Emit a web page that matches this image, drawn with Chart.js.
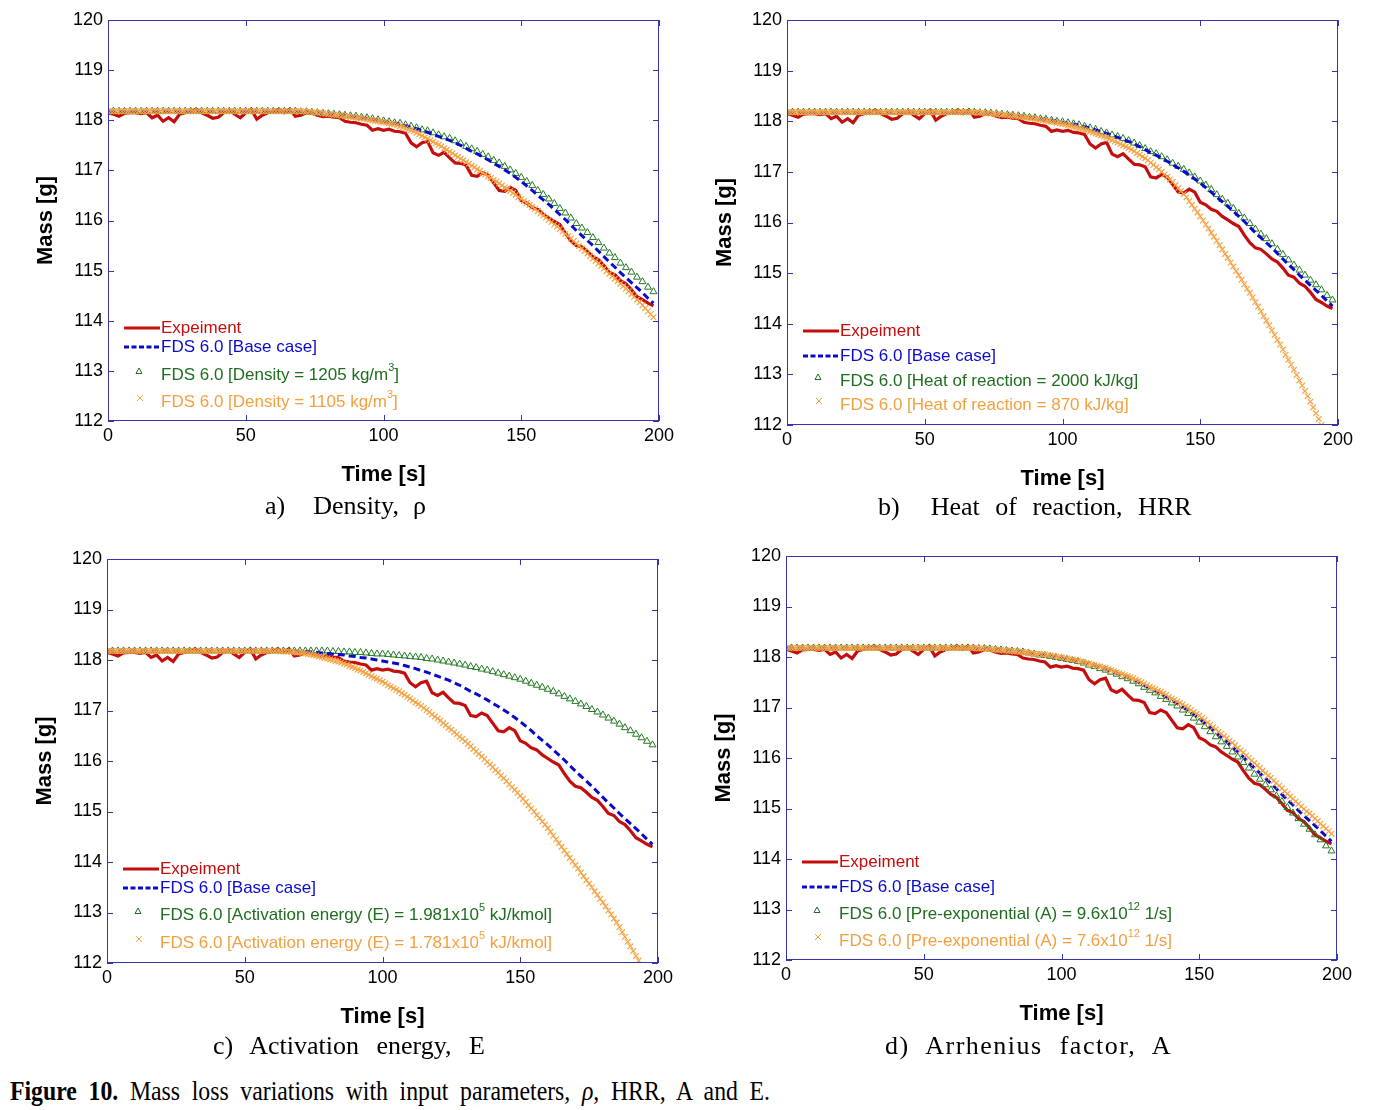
<!DOCTYPE html>
<html>
<head>
<meta charset="utf-8">
<title>Figure 10 - Mass loss variations</title>
<script src="https://cdn.jsdelivr.net/npm/chart.js@4.4.1/dist/chart.umd.min.js"></script>
<style>
  body { margin: 0; background: #fff; }
  #page { position: relative; width: 1374px; height: 1110px; overflow: hidden; background: #fff; }
  canvas { position: absolute; }
  .sub { position: absolute; font-family: "Liberation Serif", "Times New Roman", serif; font-size: 26px;
         line-height: 30px; white-space: pre; color: #000; }
  #caption { position: absolute; left: 10px; top: 1076px; font-family: "Liberation Serif", "Times New Roman", serif;
             font-size: 27px; line-height: 30px; white-space: pre; color: #000; transform: scaleX(0.88);
             transform-origin: 0 0; word-spacing: 6.5px; }
</style>
</head>
<body>
<div id="page">
  <canvas id="chartA" width="690" height="500" style="left:0px;top:0px"></canvas>
  <canvas id="chartB" width="690" height="504" style="left:679px;top:0px"></canvas>
  <canvas id="chartC" width="690" height="503" style="left:-1px;top:539px"></canvas>
  <canvas id="chartD" width="690" height="503" style="left:678px;top:536px"></canvas>
  <div class="sub" style="left:265px;top:491px;word-spacing:7.5px">a)  Density, ρ</div>
  <div class="sub" style="left:878px;top:492px;word-spacing:9px">b)  Heat of reaction, HRR</div>
  <div class="sub" style="left:213px;top:1031px;word-spacing:11px">c) Activation energy, E</div>
  <div class="sub" style="left:885px;top:1031px;word-spacing:9px;letter-spacing:1.5px">d) Arrhenius factor, A</div>
  <div id="caption"><b>Figure 10.</b> Mass loss variations with input parameters, <i>ρ</i>, HRR, A and E.</div>
</div>
<script>
// sampling interval of the series [s]
const stepCoarse = 2;   // experiment, base case, triangle series
const stepFine = 1;     // cross series

// axis ticks
const timeTicks = [0, 50, 100, 150, 200];
const massTicks = [112, 113, 114, 115, 116, 117, 118, 119, 120];

// measured mass [g], every 2 s
const experiment = [
  118.15, 118.12, 118.08, 118.14, 118.15, 118.15, 118.13, 118.15, 118.05, 118.1,
  117.98, 118.05, 117.97, 118.12, 118.15, 118.18, 118.22, 118.15, 118.1, 118.04,
  118.06, 118.15, 118.2, 118.12, 118.05, 118.15, 118.22, 118.02, 118.1, 118.15,
  118.18, 118.22, 118.15, 118.22, 118.08, 118.1, 118.15, 118.14, 118.1, 118.07,
  118.08, 118.06, 118.05, 117.98, 117.96, 117.95, 117.92, 117.9, 117.8, 117.83,
  117.8, 117.82, 117.78, 117.77, 117.74, 117.55, 117.47, 117.55, 117.58, 117.35,
  117.3, 117.36, 117.25, 117.15, 117.14, 117.1, 116.9, 116.88, 116.95, 116.9,
  116.75, 116.6, 116.58, 116.66, 116.6, 116.4, 116.35, 116.26, 116.22, 116.12,
  116.05, 115.98, 115.92, 115.75, 115.6, 115.5, 115.47, 115.38, 115.28, 115.22,
  115.1, 114.96, 114.92, 114.8, 114.74, 114.62, 114.48, 114.42, 114.35, 114.3
];

// FDS 6.0 base case, every 2 s
const baseCase = [
  118.18, 118.18, 118.18, 118.18, 118.18, 118.18, 118.18, 118.18, 118.18, 118.18,
  118.18, 118.18, 118.18, 118.18, 118.18, 118.18, 118.18, 118.18, 118.18, 118.18,
  118.18, 118.18, 118.18, 118.18, 118.18, 118.18, 118.18, 118.18, 118.18, 118.18,
  118.18, 118.18, 118.18, 118.18, 118.18,
  118.17, 118.17, 118.16, 118.15, 118.14, 118.13, 118.12, 118.11, 118.1, 118.08,
  118.07, 118.05, 118.04, 118.02, 118.0, 117.98, 117.96, 117.94, 117.92, 117.89,
  117.86, 117.83, 117.79, 117.76, 117.72, 117.68, 117.64, 117.6, 117.55, 117.5,
  117.44, 117.38, 117.33, 117.27, 117.21, 117.14, 117.08, 117.01, 116.94, 116.86,
  116.78, 116.69, 116.6, 116.5, 116.41, 116.32, 116.22, 116.12, 116.02, 115.91,
  115.8, 115.7, 115.6, 115.5, 115.39, 115.28, 115.17, 115.07, 114.96, 114.86,
  114.76, 114.66, 114.56, 114.45, 114.35
];

// a) density = 1205 kg/m3, every 2 s
const densityHigh = [
  118.18, 118.18, 118.18, 118.18, 118.18, 118.18, 118.18, 118.18, 118.18, 118.18,
  118.18, 118.18, 118.18, 118.18, 118.18, 118.18, 118.18, 118.18, 118.18, 118.18,
  118.18, 118.18, 118.18, 118.18, 118.18, 118.18, 118.18, 118.18, 118.18, 118.18,
  118.18, 118.18, 118.18, 118.18, 118.18,
  118.17, 118.17, 118.16, 118.15, 118.14, 118.13, 118.12, 118.11, 118.1, 118.09,
  118.08, 118.06, 118.05, 118.03, 118.01, 117.99, 117.97, 117.95, 117.94, 117.91,
  117.88, 117.85, 117.81, 117.79, 117.75, 117.71, 117.67, 117.64, 117.59, 117.54,
  117.48, 117.43, 117.38, 117.32, 117.27, 117.2, 117.15, 117.08, 117.01, 116.94,
  116.86, 116.78, 116.7, 116.6, 116.52, 116.43, 116.34, 116.24, 116.15, 116.05,
  115.94, 115.85, 115.76, 115.66, 115.56, 115.45, 115.35, 115.26, 115.15, 115.06,
  114.97, 114.87, 114.78, 114.67, 114.58
];

// a) density = 1105 kg/m3, every 1 s
const densityLow = [
  118.18, 118.18, 118.18, 118.18, 118.18, 118.18, 118.18, 118.18, 118.18, 118.18,
  118.18, 118.18, 118.18, 118.18, 118.18, 118.18, 118.18, 118.18, 118.18, 118.18,
  118.18, 118.18, 118.18, 118.18, 118.18, 118.18, 118.18, 118.18, 118.18, 118.18,
  118.18, 118.18, 118.18, 118.18, 118.18, 118.18, 118.18, 118.18, 118.18, 118.18,
  118.18, 118.18, 118.18, 118.18, 118.18, 118.18, 118.18, 118.18, 118.18, 118.18,
  118.18, 118.18, 118.18, 118.18, 118.18, 118.18, 118.18, 118.18, 118.18, 118.18,
  118.18, 118.18, 118.18, 118.18, 118.18, 118.18, 118.18, 118.18, 118.18, 118.18,
  118.18,
  118.18, 118.17, 118.17, 118.16, 118.16, 118.15, 118.15, 118.14, 118.13, 118.12,
  118.12, 118.11, 118.1, 118.1, 118.09, 118.08, 118.08, 118.07, 118.06, 118.05,
  118.05, 118.04, 118.03, 118.02, 118.01, 118.0, 117.99, 117.98, 117.97, 117.96,
  117.95, 117.94, 117.93, 117.92, 117.9, 117.88, 117.86, 117.84, 117.82, 117.8,
  117.78, 117.75, 117.72, 117.69, 117.66, 117.63, 117.6, 117.57, 117.54, 117.51,
  117.48, 117.44, 117.41, 117.37, 117.34, 117.3, 117.27, 117.23, 117.2, 117.16,
  117.13, 117.09, 117.06, 117.02, 116.99, 116.95, 116.92, 116.88, 116.85, 116.81,
  116.78, 116.74, 116.7, 116.66, 116.63, 116.59, 116.55, 116.51, 116.47, 116.43,
  116.39, 116.35, 116.31, 116.27, 116.23, 116.19, 116.14, 116.1, 116.06, 116.01,
  115.97, 115.92, 115.88, 115.83, 115.78, 115.73, 115.69, 115.64, 115.59, 115.54,
  115.49, 115.44, 115.39, 115.34, 115.29, 115.24, 115.19, 115.14, 115.09, 115.04,
  114.99, 114.94, 114.89, 114.84, 114.79, 114.74, 114.69, 114.64, 114.59, 114.53,
  114.48, 114.42, 114.37, 114.31, 114.25, 114.19, 114.13, 114.07
];

// b) heat of reaction = 2000 kJ/kg, every 2 s
const heatHigh = [
  118.18, 118.18, 118.18, 118.18, 118.18, 118.18, 118.18, 118.18, 118.18, 118.18,
  118.18, 118.18, 118.18, 118.18, 118.18, 118.18, 118.18, 118.18, 118.18, 118.18,
  118.18, 118.18, 118.18, 118.18, 118.18, 118.18, 118.18, 118.18, 118.18, 118.18,
  118.18, 118.18, 118.18, 118.18, 118.18,
  118.17, 118.17, 118.16, 118.15, 118.14, 118.13, 118.12, 118.11, 118.1, 118.08,
  118.07, 118.05, 118.04, 118.02, 118.0, 117.99, 117.97, 117.95, 117.93, 117.9,
  117.87, 117.84, 117.8, 117.77, 117.73, 117.7, 117.66, 117.62, 117.57, 117.52,
  117.46, 117.4, 117.36, 117.3, 117.24, 117.17, 117.11, 117.05, 116.98, 116.9,
  116.82, 116.74, 116.65, 116.55, 116.46, 116.38, 116.28, 116.18, 116.09, 115.98,
  115.87, 115.77, 115.68, 115.58, 115.47, 115.37, 115.26, 115.16, 115.06, 114.96,
  114.86, 114.77, 114.67, 114.56, 114.47
];

// b) heat of reaction = 870 kJ/kg, every 1 s
const heatLow = [
  118.18, 118.18, 118.18, 118.18, 118.18, 118.18, 118.18, 118.18, 118.18, 118.18,
  118.18, 118.18, 118.18, 118.18, 118.18, 118.18, 118.18, 118.18, 118.18, 118.18,
  118.18, 118.18, 118.18, 118.18, 118.18, 118.18, 118.18, 118.18, 118.18, 118.18,
  118.18, 118.18, 118.18, 118.18, 118.18, 118.18, 118.18, 118.18, 118.18, 118.18,
  118.18, 118.18, 118.18, 118.18, 118.18, 118.18, 118.18, 118.18, 118.18, 118.18,
  118.18, 118.18, 118.18, 118.18, 118.18, 118.18, 118.18, 118.18, 118.18, 118.18,
  118.18, 118.18, 118.18, 118.18, 118.18, 118.18, 118.18, 118.18, 118.18, 118.18,
  118.17, 118.17, 118.16, 118.16, 118.15, 118.15, 118.14, 118.14, 118.13, 118.13,
  118.12, 118.11, 118.11, 118.1, 118.09, 118.09, 118.08, 118.07, 118.07, 118.06,
  118.05, 118.04, 118.03, 118.02, 118.01, 118.0, 117.99, 117.98, 117.97, 117.96,
  117.95, 117.94, 117.92, 117.91, 117.89, 117.88, 117.86, 117.85, 117.83, 117.82,
  117.8, 117.78, 117.76, 117.74, 117.72, 117.7, 117.68, 117.65, 117.63, 117.6,
  117.58, 117.55, 117.52, 117.5, 117.47, 117.44, 117.41, 117.37, 117.34, 117.3,
  117.27, 117.23, 117.18, 117.14, 117.09, 117.05, 117.0, 116.95, 116.9, 116.85,
  116.8, 116.74, 116.68, 116.62, 116.56, 116.5, 116.42, 116.35, 116.27, 116.2,
  116.12, 116.04, 115.96, 115.88, 115.8, 115.72, 115.64, 115.55, 115.47, 115.38,
  115.3, 115.21, 115.13, 115.04, 114.96, 114.87, 114.78, 114.69, 114.61, 114.52,
  114.43, 114.34, 114.24, 114.15, 114.06, 113.97, 113.87, 113.78, 113.68, 113.59,
  113.49, 113.39, 113.29, 113.19, 113.09, 112.99, 112.88, 112.78, 112.67, 112.57,
  112.46, 112.35, 112.23, 112.12, 112.0, 111.89
];

// c) activation energy = 1.981e5 kJ/kmol, every 2 s
const energyHigh = [
  118.18, 118.18, 118.18, 118.18, 118.18, 118.18, 118.18, 118.18, 118.18, 118.18,
  118.18, 118.18, 118.18, 118.18, 118.18, 118.18, 118.18, 118.18, 118.18, 118.18,
  118.18, 118.18, 118.18, 118.18, 118.18, 118.18, 118.18, 118.18, 118.18, 118.18,
  118.18, 118.18, 118.18, 118.18, 118.18, 118.18, 118.18, 118.18, 118.18, 118.18,
  118.18,
  118.17, 118.17, 118.16, 118.16, 118.15, 118.15, 118.14, 118.13, 118.12, 118.12,
  118.11, 118.1, 118.09, 118.08, 118.07, 118.06, 118.05, 118.03, 118.02, 118.0,
  117.98, 117.96, 117.94, 117.92, 117.9, 117.87, 117.85, 117.82, 117.8, 117.77,
  117.74, 117.71, 117.68, 117.65, 117.62, 117.58, 117.54, 117.5, 117.46, 117.42,
  117.38, 117.33, 117.28, 117.23, 117.18, 117.13, 117.08, 117.02, 116.97, 116.91,
  116.85, 116.79, 116.73, 116.66, 116.6, 116.53, 116.46, 116.39, 116.32
];

// c) activation energy = 1.781e5 kJ/kmol, every 1 s
const energyLow = [
  118.18, 118.18, 118.18, 118.18, 118.18, 118.18, 118.18, 118.18, 118.18, 118.18,
  118.18, 118.18, 118.18, 118.18, 118.18, 118.18, 118.18, 118.18, 118.18, 118.18,
  118.18, 118.18, 118.18, 118.18, 118.18, 118.18, 118.18, 118.18, 118.18, 118.18,
  118.18, 118.18, 118.18, 118.18, 118.18, 118.18, 118.18, 118.18, 118.18, 118.18,
  118.18, 118.18, 118.18, 118.18, 118.18, 118.18, 118.18, 118.18, 118.18, 118.18,
  118.18, 118.18, 118.18, 118.18, 118.18, 118.18, 118.18, 118.18, 118.18, 118.18,
  118.18, 118.18, 118.18, 118.17, 118.17, 118.17, 118.17, 118.16, 118.16, 118.15,
  118.15, 118.14, 118.13, 118.12, 118.11, 118.1, 118.09, 118.07, 118.06, 118.04,
  118.03, 118.01, 118.0, 117.98, 117.97, 117.95, 117.93, 117.91, 117.88, 117.86,
  117.84, 117.81, 117.79, 117.76, 117.74, 117.71, 117.68, 117.65, 117.63, 117.6,
  117.57, 117.54, 117.5, 117.47, 117.44, 117.41, 117.38, 117.34, 117.31, 117.27,
  117.24, 117.2, 117.16, 117.13, 117.09, 117.05, 117.01, 116.97, 116.92, 116.88,
  116.84, 116.8, 116.75, 116.71, 116.66, 116.62, 116.57, 116.53, 116.48, 116.44,
  116.39, 116.34, 116.29, 116.24, 116.19, 116.14, 116.09, 116.04, 115.98, 115.93,
  115.88, 115.82, 115.77, 115.71, 115.66, 115.6, 115.54, 115.48, 115.43, 115.37,
  115.31, 115.25, 115.19, 115.12, 115.06, 115.0, 114.93, 114.87, 114.8, 114.74,
  114.67, 114.6, 114.52, 114.45, 114.37, 114.3, 114.23, 114.16, 114.08, 114.01,
  113.94, 113.87, 113.79, 113.72, 113.64, 113.57, 113.5, 113.42, 113.35, 113.27,
  113.2, 113.12, 113.04, 112.96, 112.88, 112.8, 112.71, 112.61, 112.52, 112.42,
  112.33, 112.24, 112.14, 112.05, 111.95, 111.86
];

// d) pre-exponential = 9.6e12 1/s, every 2 s
const preExpHigh = [
  118.18, 118.18, 118.18, 118.18, 118.18, 118.18, 118.18, 118.18, 118.18, 118.18,
  118.18, 118.18, 118.18, 118.18, 118.18, 118.18, 118.18, 118.18, 118.18, 118.18,
  118.18, 118.18, 118.18, 118.18, 118.18, 118.18, 118.18, 118.18, 118.18, 118.18,
  118.18, 118.18, 118.18, 118.18, 118.18,
  118.17, 118.17, 118.16, 118.15, 118.14, 118.13, 118.12, 118.11, 118.1, 118.08,
  118.06, 118.04, 118.03, 118.01, 117.99, 117.97, 117.95, 117.93, 117.91, 117.88,
  117.84, 117.81, 117.77, 117.74, 117.7, 117.66, 117.61, 117.57, 117.52, 117.47,
  117.4, 117.34, 117.29, 117.22, 117.16, 117.09, 117.03, 116.95, 116.88, 116.79,
  116.71, 116.62, 116.52, 116.42, 116.32, 116.23, 116.12, 116.02, 115.91, 115.8,
  115.68, 115.58, 115.47, 115.37, 115.25, 115.14, 115.02, 114.91, 114.8, 114.69,
  114.59, 114.48, 114.38, 114.26, 114.16
];

// d) pre-exponential = 7.6e12 1/s, every 1 s
const preExpLow = [
  118.18, 118.18, 118.18, 118.18, 118.18, 118.18, 118.18, 118.18, 118.18, 118.18,
  118.18, 118.18, 118.18, 118.18, 118.18, 118.18, 118.18, 118.18, 118.18, 118.18,
  118.18, 118.18, 118.18, 118.18, 118.18, 118.18, 118.18, 118.18, 118.18, 118.18,
  118.18, 118.18, 118.18, 118.18, 118.18, 118.18, 118.18, 118.18, 118.18, 118.18,
  118.18, 118.18, 118.18, 118.18, 118.18, 118.18, 118.18, 118.18, 118.18, 118.18,
  118.18, 118.18, 118.18, 118.18, 118.18, 118.18, 118.18, 118.18, 118.18, 118.18,
  118.18, 118.18, 118.18, 118.18, 118.18, 118.18, 118.18, 118.18, 118.18, 118.18,
  118.17, 118.17, 118.17, 118.16, 118.16, 118.15, 118.15, 118.14, 118.14, 118.13,
  118.13, 118.12, 118.12, 118.11, 118.11, 118.1, 118.1, 118.09, 118.08, 118.07,
  118.07, 118.06, 118.06, 118.05, 118.05, 118.04, 118.03, 118.02, 118.01, 118.0,
  117.99, 117.98, 117.97, 117.96, 117.95, 117.94, 117.93, 117.91, 117.9, 117.88,
  117.87, 117.85, 117.84, 117.82, 117.81, 117.79, 117.78, 117.76, 117.74, 117.72,
  117.7, 117.68, 117.66, 117.64, 117.62, 117.6, 117.58, 117.55, 117.53, 117.5,
  117.47, 117.44, 117.41, 117.38, 117.36, 117.33, 117.31, 117.28, 117.25, 117.21,
  117.18, 117.15, 117.12, 117.09, 117.06, 117.02, 116.99, 116.95, 116.91, 116.87,
  116.84, 116.79, 116.75, 116.7, 116.66, 116.61, 116.57, 116.52, 116.48, 116.43,
  116.39, 116.34, 116.3, 116.25, 116.2, 116.15, 116.11, 116.05, 116.0, 115.95,
  115.9, 115.85, 115.8, 115.75, 115.7, 115.65, 115.61, 115.55, 115.5, 115.45,
  115.4, 115.34, 115.29, 115.24, 115.19, 115.14, 115.09, 115.04, 114.99, 114.94,
  114.9, 114.85, 114.8, 114.75, 114.7, 114.65, 114.6, 114.55, 114.5
];

// colours
const red = '#c40d0d';
const blue = '#0a0acc';
const green = '#237a23';
const orange = '#f5a343';
const frameColor = '#3434b0';
const sans = '"Liberation Sans", Arial, sans-serif';

// turn a list of masses into {x: time, y: mass}
function toPoints(values, step) {
  return values.map((v, i) => ({ x: i * step, y: v }));
}

// text with optional superscript pieces: [[text, isSup], ...]
function drawRich(ctx, parts, x, y, size) {
  parts.forEach(([txt, sup]) => {
    ctx.font = (sup ? Math.round(size * 0.62) : size) + 'px ' + sans;
    ctx.fillText(txt, x, sup ? y - size * 0.42 : y);
    x += ctx.measureText(txt).width;
  });
}

// box, inward ticks and the in-plot legend
const frameLegend = {
  id: 'frameLegend',
  afterDatasetsDraw(chart, args, opts) {
    const { ctx, chartArea: a, scales: { x, y } } = chart;
    ctx.save();
    ctx.strokeStyle = frameColor;
    ctx.lineWidth = 1;
    ctx.strokeRect(a.left + 0.5, a.top + 0.5, a.right - a.left - 1, a.bottom - a.top - 1);
    ctx.beginPath();
    timeTicks.forEach(t => {
      const px = Math.round(x.getPixelForValue(t)) + 0.5;
      ctx.moveTo(px, a.bottom); ctx.lineTo(px, a.bottom - 6);
      ctx.moveTo(px, a.top); ctx.lineTo(px, a.top + 6);
    });
    massTicks.forEach(m => {
      const py = Math.round(y.getPixelForValue(m)) + 0.5;
      ctx.moveTo(a.left, py); ctx.lineTo(a.left + 6, py);
      ctx.moveTo(a.right, py); ctx.lineTo(a.right - 6, py);
    });
    ctx.stroke();

    // legend
    ctx.textBaseline = 'middle';
    opts.rows.forEach((row, i) => {
      const ry = a.bottom - opts.offsets[i];
      const x0 = a.left + 16, x1 = a.left + 52;
      ctx.strokeStyle = row.color;
      ctx.fillStyle = row.color;
      if (row.kind === 'line' || row.kind === 'dash') {
        ctx.lineWidth = 3;
        ctx.setLineDash(row.kind === 'dash' ? [5, 2.5] : []);
        ctx.beginPath(); ctx.moveTo(x0, ry); ctx.lineTo(x1, ry); ctx.stroke();
        ctx.setLineDash([]);
      } else if (row.kind === 'tri') {
        const cx = a.left + 31, cy = ry - 4;
        ctx.lineWidth = 1;
        ctx.beginPath();
        ctx.moveTo(cx, cy - 3); ctx.lineTo(cx + 3, cy + 2.5); ctx.lineTo(cx - 3, cy + 2.5); ctx.closePath();
        ctx.stroke();
      } else {
        const cx = a.left + 32, cy = ry - 4;
        ctx.lineWidth = 1;
        ctx.beginPath();
        ctx.moveTo(cx - 3, cy - 3); ctx.lineTo(cx + 3, cy + 3);
        ctx.moveTo(cx + 3, cy - 3); ctx.lineTo(cx - 3, cy + 3);
        ctx.stroke();
      }
      drawRich(ctx, row.text, a.left + 53, ry, 17);
    });
    ctx.restore();
  }
};

function legendRows(greenText, orangeText) {
  return [
    { kind: 'line', color: red, text: [['Expeiment']] },
    { kind: 'dash', color: blue, text: [['FDS 6.0 [Base case]']] },
    { kind: 'tri', color: '#1f6e1f', text: greenText },
    { kind: 'cross', color: '#f2a040', text: orangeText }
  ];
}

function makeChart(id, highValues, lowValues, rows, offsets) {
  new Chart(document.getElementById(id), {
    type: 'line',
    data: {
      datasets: [
        { label: 'Expeiment', data: toPoints(experiment, stepCoarse), borderColor: red,
          borderWidth: 3.2, pointRadius: 0, fill: false, tension: 0, order: 3 },
        { label: 'FDS 6.0 [Base case]', data: toPoints(baseCase, stepCoarse), borderColor: blue,
          borderWidth: 3, borderDash: [7, 4], pointRadius: 0, fill: false, tension: 0, order: 1 },
        { label: 'high', data: toPoints(highValues, stepCoarse), showLine: false, pointStyle: 'triangle',
          pointRadius: 4, pointBorderWidth: 1, pointBorderColor: green,
          pointBackgroundColor: 'rgba(0,0,0,0)', borderColor: green, order: 2 },
        { label: 'low', data: toPoints(lowValues, stepFine), showLine: false, pointStyle: 'crossRot',
          pointRadius: 4, pointBorderWidth: 1.2, pointBorderColor: orange, borderColor: orange, order: 0 }
      ]
    },
    options: {
      responsive: false,
      animation: false,
      devicePixelRatio: 1,
      events: [],
      layout: { padding: { top: 20, right: 31, left: 0, bottom: 0 } },
      plugins: {
        legend: { display: false },
        tooltip: { enabled: false },
        frameLegend: { rows: rows, offsets: offsets }
      },
      scales: {
        x: {
          type: 'linear', min: 0, max: 200,
          afterBuildTicks: s => { s.ticks = timeTicks.map(v => ({ value: v })); },
          afterFit: s => { s.height = 79; },
          grid: { display: false, drawTicks: false },
          border: { display: false },
          ticks: { color: '#000', font: { family: sans, size: 18 }, padding: 4, maxRotation: 0, autoSkip: false },
          title: { display: true, text: 'Time [s]', color: '#000',
                   font: { family: sans, size: 22, weight: 'bold' }, padding: { top: 0, bottom: 12 } }
        },
        y: {
          type: 'linear', min: 112, max: 120,
          afterBuildTicks: s => { s.ticks = massTicks.map(v => ({ value: v })); },
          afterFit: s => { s.width = 108; },
          grid: { display: false, drawTicks: false },
          border: { display: false },
          ticks: { color: '#000', font: { family: sans, size: 18 }, padding: 5, autoSkip: false },
          title: { display: true, text: 'Mass [g]', color: '#000',
                   font: { family: sans, size: 22, weight: 'bold' }, padding: { top: 33, bottom: 0 } }
        }
      }
    },
    plugins: [frameLegend]
  });
}

makeChart('chartA', densityHigh, densityLow,
  legendRows([['FDS 6.0 [Density = 1205 kg/m'], ['3', true], [']']],
             [['FDS 6.0 [Density = 1105 kg/m'], ['3', true], [']']]),
  [93, 74, 46, 19]);

makeChart('chartB', heatHigh, heatLow,
  legendRows([['FDS 6.0 [Heat of reaction = 2000 kJ/kg]']],
             [['FDS 6.0 [Heat of reaction = 870 kJ/kg]']]),
  [94, 69, 44, 20]);

makeChart('chartC', energyHigh, energyLow,
  legendRows([['FDS 6.0 [Activation energy (E) = 1.981x10'], ['5', true], [' kJ/kmol]']],
             [['FDS 6.0 [Activation energy (E) = 1.781x10'], ['5', true], [' kJ/kmol]']]),
  [94, 75, 48, 20]);

makeChart('chartD', preExpHigh, preExpLow,
  legendRows([['FDS 6.0 [Pre-exponential (A) = 9.6x10'], ['12', true], [' 1/s]']],
             [['FDS 6.0 [Pre-exponential (A) = 7.6x10'], ['12', true], [' 1/s]']]),
  [98, 73, 46, 19]);
</script>
</body>
</html>
